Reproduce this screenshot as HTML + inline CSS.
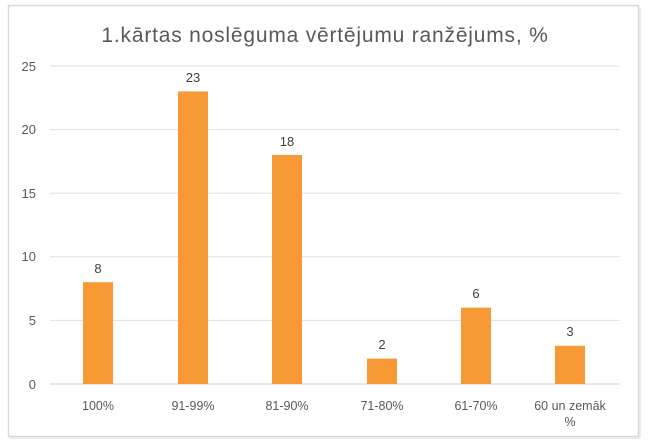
<!DOCTYPE html>
<html><head><style>
body{margin:0;background:#fff;}
svg{display:block;font-family:"Liberation Sans",sans-serif;}
</style></head><body>
<svg width="650" height="447" xmlns="http://www.w3.org/2000/svg">
<rect x="8.5" y="5.5" width="630" height="431" fill="#fff" stroke="#d9d9d9" stroke-width="1.5"/>
<line x1="640" y1="8" x2="640" y2="438" stroke="#ececec" stroke-width="2"/>
<line x1="10" y1="438" x2="640" y2="438" stroke="#ececec" stroke-width="2"/>
<text x="325" y="42" text-anchor="middle" font-size="21" letter-spacing="0.8" fill="#595959">1.kārtas noslēguma vērtējumu ranžējums, %</text>
<g stroke="#e0e0e0" stroke-width="1">
<line x1="50" x2="620" y1="66" y2="66"/>
<line x1="50" x2="620" y1="129.6" y2="129.6"/>
<line x1="50" x2="620" y1="193.2" y2="193.2"/>
<line x1="50" x2="620" y1="256.8" y2="256.8"/>
<line x1="50" x2="620" y1="320.4" y2="320.4"/>
<line x1="50" x2="620" y1="384" y2="384" stroke="#d0d0d0"/>
</g>
<g font-size="13" fill="#595959" text-anchor="end">
<text x="36" y="71">25</text>
<text x="36" y="134">20</text>
<text x="36" y="198">15</text>
<text x="36" y="261">10</text>
<text x="36" y="325">5</text>
<text x="36" y="389">0</text>
</g>
<g fill="#f79a36">
<rect x="83" y="282.2" width="30" height="101.8"/>
<rect x="178" y="91.4" width="30" height="292.6"/>
<rect x="272" y="155" width="30" height="229"/>
<rect x="367" y="358.6" width="30" height="25.4"/>
<rect x="461" y="307.7" width="30" height="76.3"/>
<rect x="555" y="345.8" width="30" height="38.2"/>
</g>
<g font-size="13" fill="#404040" text-anchor="middle">
<text x="98" y="273">8</text>
<text x="193" y="82">23</text>
<text x="287" y="146">18</text>
<text x="382" y="349">2</text>
<text x="476" y="298">6</text>
<text x="570" y="336">3</text>
</g>
<g font-size="12.5" fill="#595959" text-anchor="middle">
<text x="98" y="410">100%</text>
<text x="193" y="410">91-99%</text>
<text x="287" y="410">81-90%</text>
<text x="382" y="410">71-80%</text>
<text x="476" y="410">61-70%</text>
<text x="570" y="410">60 un zemāk</text>
<text x="570" y="426">%</text>
</g>
</svg>
</body></html>
